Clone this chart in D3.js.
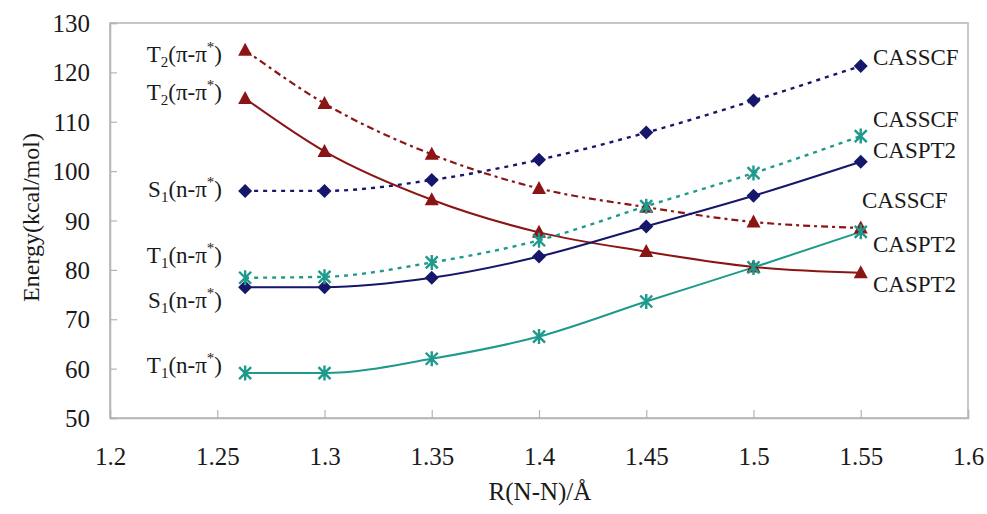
<!DOCTYPE html>
<html>
<head>
<meta charset="utf-8">
<script src="https://cdn.jsdelivr.net/npm/d3@7"></script>
<style>
  body { margin: 0; background: #fff; }
  text { font-family: "Liberation Serif", "Times New Roman", serif; fill: #1a1a1a; }
</style>
</head>
<body>
<div id="chart"></div>
<script>
var svgWidth = 987;
var svgHeight = 514;

var margin = { top: 23, right: 19, bottom: 96, left: 110 };
var width = svgWidth - margin.left - margin.right;
var height = svgHeight - margin.top - margin.bottom;

// bond length values (x) and energies per curve
var xVals = [1.263, 1.3, 1.35, 1.4, 1.45, 1.5, 1.55];
var t2Casscf = [124.5, 113.7, 103.4, 96.5, 92.7, 89.7, 88.5];
var t2Caspt2 = [114.7, 104.0, 94.2, 87.6, 83.7, 80.6, 79.4];
var s1Casscf = [96.0, 96.0, 98.2, 102.3, 107.8, 114.3, 121.3];
var s1Caspt2 = [76.5, 76.5, 78.4, 82.7, 88.8, 95.0, 101.9];
var t1Casscf = [78.4, 78.6, 81.5, 86.0, 92.9, 99.6, 107.1];
var t1Caspt2 = [59.1, 59.1, 62.0, 66.5, 73.6, 80.5, 87.7];

var xTicks = [1.2, 1.25, 1.3, 1.35, 1.4, 1.45, 1.5, 1.55, 1.6];
var yTicks = [50, 60, 70, 80, 90, 100, 110, 120, 130];

var red = "#8b1414", navy = "#16166a", teal = "#1e9a8c";

var series = [
  { vals: t2Casscf, color: red, dash: "7,4,3,4", marker: "tri", w: 2.2 },
  { vals: t2Caspt2, color: red, dash: null, marker: "tri", w: 2 },
  { vals: s1Casscf, color: navy, dash: "4,5", marker: "dia", w: 2.4 },
  { vals: s1Caspt2, color: navy, dash: null, marker: "dia", w: 2 },
  { vals: t1Casscf, color: teal, dash: "4,5", marker: "star", w: 2.4 },
  { vals: t1Caspt2, color: teal, dash: null, marker: "star", w: 2 }
];

// left state labels: [main letter, subscript, middle, baseline y]
var leftLabels = [
  ["T", "2", "(π-π", 62],
  ["T", "2", "(π-π", 100],
  ["S", "1", "(n-π", 197],
  ["T", "1", "(n-π", 263],
  ["S", "1", "(n-π", 308],
  ["T", "1", "(n-π", 373]
];
// right method labels: [text, x, baseline y]
var rightLabels = [
  ["CASSCF", 873, 65],
  ["CASSCF", 873, 127],
  ["CASPT2", 873, 158],
  ["CASSCF", 862, 208],
  ["CASPT2", 873, 252],
  ["CASPT2", 873, 292]
];

var svg = d3.select("#chart")
  .append("svg")
  .attr("width", svgWidth)
  .attr("height", svgHeight);

var chartGroup = svg.append("g")
  .attr("transform", `translate(${margin.left}, ${margin.top})`);

var xScale = d3.scaleLinear().domain([1.2, 1.6]).range([0, width]);
var yScale = d3.scaleLinear().domain([50, 130]).range([height, 0]);

// plot frame
chartGroup.append("rect")
  .attr("x", 0).attr("y", 0)
  .attr("width", width).attr("height", height)
  .attr("fill", "none")
  .attr("stroke", "#b4b4b4")
  .attr("stroke-width", 1.5);

// axes, ticks pointing inward
var bottomAxis = d3.axisBottom(xScale).tickValues(xTicks).tickSize(-8).tickFormat(d => d3.format("")(d));
var leftAxis = d3.axisLeft(yScale).tickValues(yTicks).tickSize(-7);

var xAxis = chartGroup.append("g")
  .attr("transform", `translate(0, ${height})`)
  .call(bottomAxis);
var yAxis = chartGroup.append("g").call(leftAxis);

[xAxis, yAxis].forEach(function(ax) {
  ax.select(".domain").attr("stroke", "#b4b4b4").attr("stroke-width", 1.5);
  ax.selectAll(".tick line").attr("stroke", "#b4b4b4").attr("stroke-width", 1.2);
  ax.selectAll(".tick text")
    .attr("fill", "#1a1a1a")
    .style("font-family", "'Liberation Serif', serif")
    .style("font-size", "25px");
});
xAxis.selectAll(".tick text").attr("y", 0).attr("dy", 47);
yAxis.selectAll(".tick text").attr("x", -20).attr("dy", "0.34em");

// axis titles
chartGroup.append("text")
  .attr("transform", "rotate(-90)")
  .attr("x", -(height / 2) + 3)
  .attr("y", -margin.left + 39)
  .attr("text-anchor", "middle")
  .style("font-size", "24px")
  .text("Energy(kcal/mol)");

chartGroup.append("text")
  .attr("x", width / 2 + 1)
  .attr("y", height + 82)
  .attr("text-anchor", "middle")
  .style("font-size", "25px")
  .text("R(N-N)/Å");

// curves
var line = d3.line()
  .x(d => xScale(d[0]))
  .y(d => yScale(d[1]))
  .curve(d3.curveMonotoneX);

series.forEach(function(s) {
  var pts = xVals.map((x, i) => [x, s.vals[i]]);
  chartGroup.append("path")
    .datum(pts)
    .attr("d", line)
    .attr("fill", "none")
    .attr("stroke", s.color)
    .attr("stroke-width", s.w)
    .attr("stroke-dasharray", s.dash);
});

// markers
series.forEach(function(s) {
  var pts = xVals.map((x, i) => [x, s.vals[i]]);
  var g = chartGroup.append("g");
  pts.forEach(function(p) {
    var cx = xScale(p[0]), cy = yScale(p[1]);
    if (s.marker === "tri") {
      g.append("path")
        .attr("d", `M${cx},${cy - 7.5}L${cx + 7},${cy + 5.5}L${cx - 7},${cy + 5.5}Z`)
        .attr("fill", s.color);
    } else if (s.marker === "dia") {
      g.append("path")
        .attr("d", `M${cx},${cy - 7}L${cx + 7},${cy}L${cx},${cy + 7}L${cx - 7},${cy}Z`)
        .attr("fill", s.color);
    } else {
      var r = 6;
      g.append("path")
        .attr("d", `M${cx - r},${cy - r}L${cx + r},${cy + r}M${cx - r},${cy + r}L${cx + r},${cy - r}M${cx},${cy - r - 1.5}L${cx},${cy + r + 1.5}`)
        .attr("stroke", s.color)
        .attr("stroke-width", 2.4)
        .attr("fill", "none");
    }
  });
});

// left state labels
leftLabels.forEach(function(l) {
  var t = svg.append("text")
    .attr("x", 222)
    .attr("y", l[3])
    .attr("text-anchor", "end")
    .style("font-size", "23px");
  t.append("tspan").text(l[0]);
  t.append("tspan").attr("dy", 5).style("font-size", "15px").text(l[1]);
  t.append("tspan").attr("dy", -5).text(l[2]);
  t.append("tspan").attr("dy", -10).style("font-size", "15px").text("*");
  t.append("tspan").attr("dy", 10).text(")");
});

// right method labels
rightLabels.forEach(function(l) {
  svg.append("text")
    .attr("x", l[1])
    .attr("y", l[2])
    .style("font-size", "23px")
    .text(l[0]);
});
</script>
</body>
</html>
